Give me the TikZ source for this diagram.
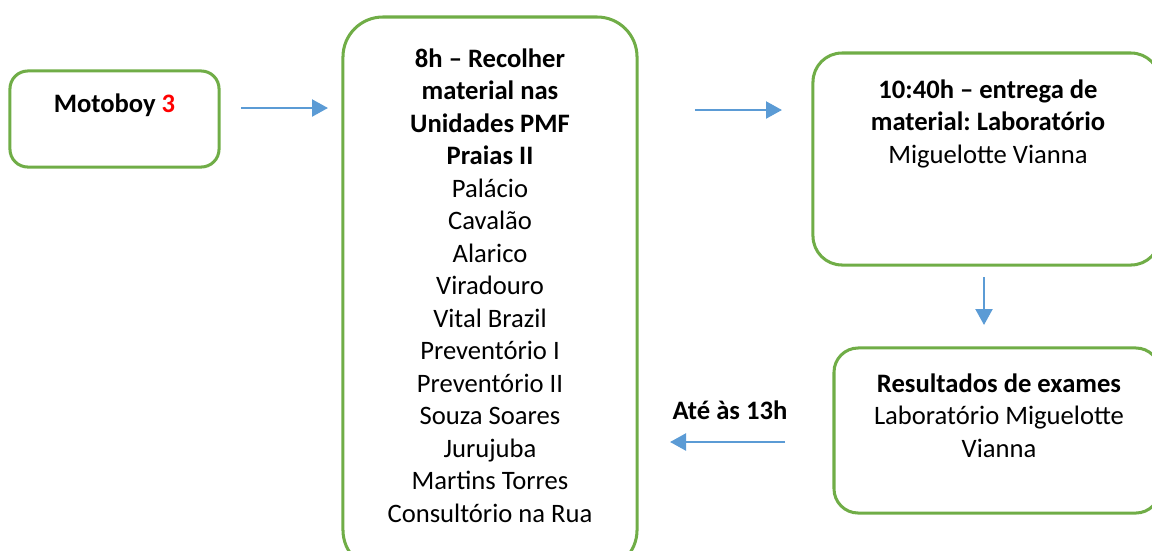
\documentclass[tikz,border=0pt]{standalone}
\usepackage{fontspec}
\setmainfont{Carlito}
\frenchspacing
\usetikzlibrary{calc,arrows.meta}
\definecolor{boxgreen}{HTML}{70AD47}
\definecolor{flowblue}{HTML}{5B9BD5}
\tikzset{
    stage/.style={draw=boxgreen, line width=1.25pt, rectangle, inner sep=0pt, outer sep=0pt},
    flow/.style={draw=flowblue, line width=1pt, -{Triangle[length=6.6pt,width=7pt]}},
    txt/.style={anchor=base, inner sep=0pt, align=flush center, font=\fontsize{11}{13.43}\selectfont}
}
\begin{document}
\begin{tikzpicture}[x=0.4132pt, y=-0.4132pt]
    \useasboundingbox (0,0) rectangle (1152,550);

    % these are the boxes
    \node[stage, rounded corners=7.4pt, minimum width=86.4pt, minimum height=39.7pt] (moto) at (114.5,119) {};
    \node[stage, rounded corners=16.5pt, minimum width=121.5pt, minimum height=228.5pt] (coleta) at (490,293.5) {};
    \node[stage, rounded corners=12pt, minimum width=143.4pt, minimum height=87.6pt] (entrega) at (986.5,159) {};
    \node[stage, rounded corners=10pt, minimum width=134.7pt, minimum height=68.2pt] (result) at (997,430.5) {};

    % the texts
    \node[txt] (tmoto) at (114.5,112) {\textbf{Motoboy \textcolor{red}{3}}};
    \node[txt, text width=125pt] (tcoleta) at (490,67) {\textbf{8h -- Recolher}\\ \textbf{material nas}\\ \textbf{Unidades PMF}\\ \textbf{Praias II}\\ Palácio\\ Cavalão\\ Alarico\\ Viradouro\\ Vital Brazil\\ Preventório I\\ Preventório II\\ Souza Soares\\ Jurujuba\\ Martins Torres\\ Consultório na Rua};
    \node[txt, text width=140pt] (tentrega) at (988,98) {\textbf{10:40h -- entrega de}\\ \textbf{material: Laboratório}\\ Miguelotte Vianna};
    \node[txt, text width=130pt] (tresult) at (999,392) {\textbf{Resultados de exames}\\ Laboratório Miguelotte\\ Vianna};
    \node[txt] (prazo) at (730,419) {\textbf{Até às 13h}};

    % the arrows
    \draw[flow] ($(moto.east)+(22,-11)$) -- ($(moto.east -| coleta.west)+(-15,-11)$);
    \draw[flow] ($(entrega.west)+(-118,-49)$) -- ($(entrega.west)+(-31,-49)$);
    \draw[flow] ($(entrega.south)+(-2.5,12)$) -- ($(result.north -| entrega.south)+(-2.5,-23)$);
    \draw[flow] ($(result.west)+(-49,11.5)$) -- ($(result.west -| coleta.east)+(33,11.5)$);

\end{tikzpicture}
\end{document}
